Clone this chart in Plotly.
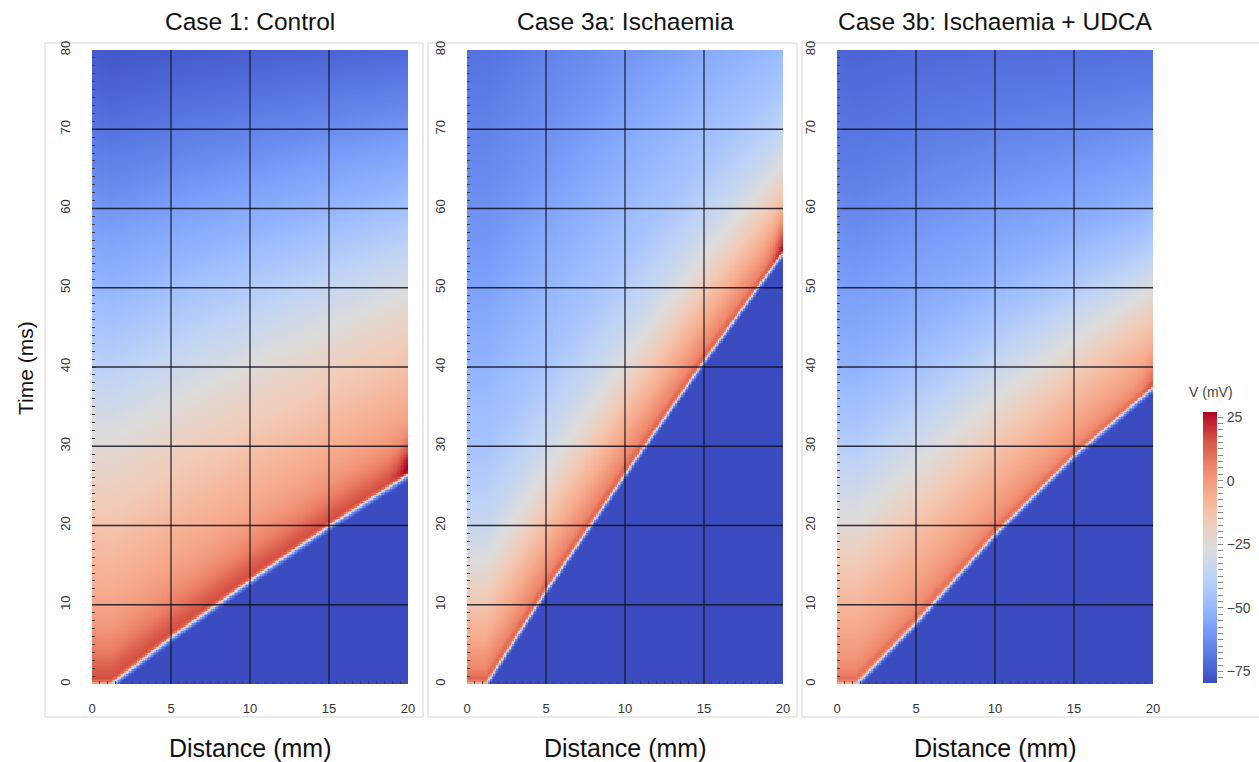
import numpy as np
import plotly.graph_objects as go

W, H = 1259, 762

# ---------------------------------------------------------------- data
panel_titles = ["Case 1: Control", "Case 3a: Ischaemia", "Case 3b: Ischaemia + UDCA"]

distance_mm = np.round(np.arange(0, 20.0001, 0.1), 3)
time_ms = np.round(np.arange(0, 80.0001, 0.2), 3)

# activation front: arrival time (ms) at selected distances (mm)
front_x = [0.0, 1.2, 5.0, 10.0, 15.0, 20.0]
front_t_control = [0.0, 0.0, 5.9, 13.1, 20.0, 26.5]
front_t_isch = [0.0, 0.0, 11.8, 26.5, 40.8, 54.5]
front_t_udca = [0.0, 0.0, 7.8, 19.0, 28.9, 37.5]

# membrane potential (mV) against time since activation (ms), at x = 0
ap_tau = [-0.8, -0.3, 0.0, 0.3, 0.8, 2, 4, 7, 10, 15, 20, 25, 30, 35, 40,
          45, 50, 55, 60, 65, 70, 75, 80, 90, 100]
ap_v_control = [-80, -62, -25, 10, 17, 14, 8, 1, -3, -8, -13, -18, -24, -31, -38,
                -44, -50, -55, -60, -65, -69, -73, -76, -79, -80]
ap_v_isch = [-80, -62, -25, 6, 12, 5, 0, -7, -14, -25, -34, -40, -45, -48, -51,
             -54, -57, -60, -62, -64, -66, -68, -70, -73, -76]
ap_v_udca = [-80, -62, -25, 5, 10, 4, 0, -4, -8, -15, -24, -32, -40, -46, -51,
             -55, -58, -61, -64, -67, -69, -71, -73, -76, -78]

# relative action potential duration along the strip
apd_x = [0, 5, 10, 15, 20]
apd_control = [1.0, 0.93, 0.86, 0.79, 0.72]
apd_isch = [1.0, 0.97, 0.93, 0.85, 0.72]
apd_udca = [1.0, 0.92, 0.80, 0.68, 0.58]

# extra depolarisation (mV) at the sealed end of the strip
end_peak = [14, 16, 7]
end_zone_mm = 1.5
end_tau = [-0.5, 0.5, 2.0, 4.0, 7.0]
end_frac = [0.0, 1.0, 1.0, 0.4, 0.0]

# colour scale limits and ticks
v_min, v_max = -79.5, 27.0
cbar_major = [-75, -50, -25, 0, 25]
cbar_minor_step = 2.5

# axes
x_ticks = [0, 5, 10, 15, 20]
t_ticks = [0, 10, 20, 30, 40, 50, 60, 70, 80]
grid_x = [5, 10, 15]
grid_t = [10, 20, 30, 40, 50, 60, 70]

coolwarm = ["#3b4cc0", "#5977e3", "#7b9ff9", "#9ebeff", "#c0d4f5", "#dddcdc",
            "#f2cbb7", "#f7ac8e", "#ee8468", "#d65244", "#b40426"]


def voltage_field(front_t, apd_scale, ap_v, peak):
    X, T = np.meshgrid(distance_mm, time_ms)
    t_act = np.interp(X, front_x, front_t)
    k = np.interp(X, apd_x, apd_scale)
    tau = T - t_act
    tau_s = np.where(tau > 0, tau / k, tau)
    v = np.interp(tau_s, ap_tau, ap_v)
    w = np.clip(1 - (20 - X) / end_zone_mm, 0, 1) ** 2
    v = v + peak * w * np.interp(tau, end_tau, end_frac)
    return v


fields = [
    voltage_field(front_t_control, apd_control, ap_v_control, end_peak[0]),
    voltage_field(front_t_isch, apd_isch, ap_v_isch, end_peak[1]),
    voltage_field(front_t_udca, apd_udca, ap_v_udca, end_peak[2]),
]

# ---------------------------------------------------------------- layout geometry (pixels)
plot_left = [92, 467, 837]
plot_w = 316
plot_top, plot_bottom = 50, 684
frames = [(45, 423), (428, 797), (802, 1265)]
frame_top, frame_bottom = 43, 717
cbar_left, cbar_right, cbar_top, cbar_bottom = 1203, 1217, 412, 683


def px(x):
    return x / W


def py(y):
    return 1 - y / H


fig = go.Figure()
cscale = [[i / (len(coolwarm) - 1), c] for i, c in enumerate(coolwarm)]
tick_font = dict(family="Liberation Sans", size=13, color="#333")

for i, z in enumerate(fields):
    xa = "x" if i == 0 else f"x{i+1}"
    ya = "y" if i == 0 else f"y{i+1}"
    fig.add_trace(go.Heatmap(
        x=distance_mm, y=time_ms, z=z, xaxis=xa, yaxis=ya,
        zmin=v_min, zmax=v_max, colorscale=cscale, zsmooth=False,
        showscale=False, hoverinfo="skip",
    ))
    # grid lines over the map
    gx, gy = [], []
    for g in grid_x:
        gx += [g, g, None]
        gy += [0, 80, None]
    for g in grid_t:
        gx += [0, 20, None]
        gy += [g, g, None]
    fig.add_trace(go.Scatter(x=gx, y=gy, xaxis=xa, yaxis=ya, mode="lines",
                             line=dict(color="rgba(15,15,30,0.85)", width=1.3),
                             hoverinfo="skip", showlegend=False))

    xkey = "xaxis" if i == 0 else f"xaxis{i+1}"
    ykey = "yaxis" if i == 0 else f"yaxis{i+1}"
    fig.update_layout({
        xkey: dict(
            domain=[px(plot_left[i]), px(plot_left[i] + plot_w)], range=[0, 20],
            anchor=ya, tickvals=x_ticks, showgrid=False, zeroline=False,
            ticks="inside", ticklen=4, tickcolor="#333", layer="above traces",
            minor=dict(dtick=0.5, ticks="inside", ticklen=3, tickcolor="#444", showgrid=False),
            tickfont=tick_font, ticklabelstandoff=15, fixedrange=True, automargin=False,
        ),
        ykey: dict(
            domain=[py(plot_bottom), py(plot_top)], range=[0, 80],
            anchor=xa, tickvals=t_ticks, showgrid=False, zeroline=False,
            ticks="inside", ticklen=4, tickcolor="#333", layer="above traces",
            minor=dict(dtick=1, ticks="inside", ticklen=3, tickcolor="#444", showgrid=False),
            tickangle=-90, tickfont=tick_font, ticklabelstandoff=18,
            fixedrange=True, automargin=False,
        ),
    })

# colour bar drawn as its own small subplot
bar_v = np.linspace(v_min, v_max, 256)
fig.add_trace(go.Heatmap(
    x=[0, 1], y=bar_v, z=np.column_stack([bar_v, bar_v]),
    xaxis="x4", yaxis="y4", zmin=v_min, zmax=v_max, colorscale=cscale,
    zsmooth=False, showscale=False, hoverinfo="skip",
))
fig.update_layout(
    xaxis4=dict(domain=[px(cbar_left), px(cbar_right)], range=[-0.5, 1.5], anchor="y4",
                visible=False, fixedrange=True),
    yaxis4=dict(domain=[py(cbar_bottom), py(cbar_top)], range=[v_min, v_max], anchor="x4",
                side="right", tickvals=cbar_major, showgrid=False, zeroline=False,
                ticks="outside", ticklen=5, tickcolor="#888", tickwidth=1,
                minor=dict(dtick=cbar_minor_step, ticks="outside", ticklen=5,
                           tickcolor="#888", showgrid=False),
                tickfont=dict(family="Liberation Sans", size=14, color="#444"),
                ticklabelstandoff=1, showline=False, fixedrange=True, automargin=False),
)

shapes = []
for (l, r) in frames:
    shapes.append(dict(type="rect", xref="paper", yref="paper",
                       x0=px(l), x1=px(r), y0=py(frame_bottom), y1=py(frame_top),
                       line=dict(color="#d6d6d6", width=1), layer="below"))

annotations = []
for i, t in enumerate(panel_titles):
    cx = plot_left[i] + plot_w / 2
    annotations.append(dict(text=t, x=px(cx), y=py(22), xref="paper", yref="paper",
                            showarrow=False, xanchor="center", yanchor="middle",
                            font=dict(family="Liberation Sans", size=24.5, color="#111")))
    annotations.append(dict(text="Distance (mm)", x=px(cx), y=py(748), xref="paper", yref="paper",
                            showarrow=False, xanchor="center", yanchor="middle",
                            font=dict(family="Liberation Sans", size=25, color="#111")))
annotations.append(dict(text="Time (ms)", x=px(25), y=py(368), xref="paper", yref="paper",
                        showarrow=False, textangle=-90, xanchor="center", yanchor="middle",
                        font=dict(family="Liberation Sans", size=21, color="#111")))
annotations.append(dict(text="V (mV)", x=px(1211), y=py(392), xref="paper", yref="paper",
                        showarrow=False, xanchor="center", yanchor="middle",
                        font=dict(family="Liberation Sans", size=14, color="#444")))

fig.update_layout(
    width=W, height=H, margin=dict(l=0, r=0, t=0, b=0, pad=0, autoexpand=False),
    paper_bgcolor="white", plot_bgcolor="white", showlegend=False,
    shapes=shapes, annotations=annotations,
)

fig.write_html("out.html")
